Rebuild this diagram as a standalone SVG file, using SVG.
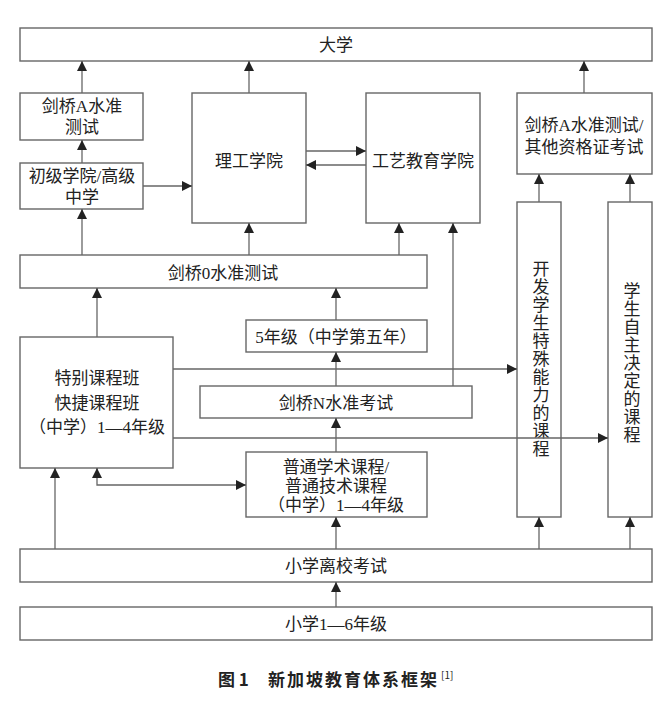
<svg xmlns="http://www.w3.org/2000/svg" width="669" height="711" viewBox="0 0 669 711">
<style>
.box{fill:#fff;stroke:#666;stroke-width:1.4}
.t{font-family:"Liberation Serif","Noto Sans CJK SC",serif;font-size:17px;fill:#222;text-anchor:middle;dominant-baseline:central}
.v{font-family:"Liberation Serif","Noto Sans CJK SC",serif;font-size:17px;fill:#222;writing-mode:vertical-rl;text-orientation:upright;letter-spacing:1px}
.c{fill:none;stroke:#666;stroke-width:1.3}
.cap{font-family:"Noto Sans CJK SC",sans-serif;font-size:17px;font-weight:600;fill:#222}
</style>
<defs>
<marker id="ah" markerUnits="userSpaceOnUse" markerWidth="10" markerHeight="10" viewBox="0 0 10 10" refX="10" refY="5" orient="auto">
<path d="M0,0 L10,5 L0,10 Z" fill="#222"/>
</marker>
<marker id="as" markerUnits="userSpaceOnUse" markerWidth="10" markerHeight="10" viewBox="0 0 10 10" refX="0" refY="5" orient="auto">
<path d="M10,0 L0,5 L10,10 Z" fill="#222"/>
</marker>
</defs>
<rect width="669" height="711" fill="#fff"/>
<g id="daxue"><rect class="box" x="20" y="28" width="632" height="33"/><text class="t" x="336" y="45">大学</text></g>
<g id="jqA1"><rect class="box" x="20" y="93" width="123" height="47"/><text class="t" x="82" y="106">剑桥A水准</text><text class="t" x="82" y="127">测试</text></g>
<g id="chuji"><rect class="box" x="20" y="163" width="123" height="46"/><text class="t" x="82" y="176">初级学院/高级</text><text class="t" x="82" y="197">中学</text></g>
<g id="ligong"><rect class="box" x="192" y="93" width="114" height="130"/><text class="t" x="249" y="161">理工学院</text></g>
<g id="gongyi"><rect class="box" x="366" y="93" width="114" height="130"/><text class="t" x="423" y="161">工艺教育学院</text></g>
<g id="jqA2"><rect class="box" x="517" y="93" width="135" height="81"/><text class="t" x="584" y="125">剑桥A水准测试/</text><text class="t" x="584" y="147">其他资格证考试</text></g>
<g id="vbox1"><rect class="box" x="517" y="202" width="44" height="315"/><text class="v" x="539" y="260">开发学生特殊能力的课程</text></g>
<g id="vbox2"><rect class="box" x="608" y="202" width="44" height="315"/><text class="v" x="630" y="282" letter-spacing="0.6">学生自主决定的课程</text></g>
<g id="jq0"><rect class="box" x="20" y="255" width="407" height="33"/><text class="t" x="223" y="273">剑桥0水准测试</text></g>
<g id="g5"><rect class="box" x="246" y="320" width="181" height="32"/><text class="t" x="336" y="337">5年级（中学第五年）</text></g>
<g id="tebie"><rect class="box" x="20" y="337" width="153" height="131"/><text class="t" x="97" y="378">特别课程班</text><text class="t" x="97" y="403">快捷课程班</text><text class="t" x="97" y="427">（中学）1—4年级</text></g>
<g id="jqN"><rect class="box" x="200" y="386" width="272" height="32"/><text class="t" x="336" y="403">剑桥N水准考试</text></g>
<g id="putong"><rect class="box" x="246" y="452" width="181" height="65"/><text class="t" x="336" y="467">普通学术课程/</text><text class="t" x="336" y="486">普通技术课程</text><text class="t" x="336" y="505">（中学）1—4年级</text></g>
<g id="lixiao"><rect class="box" x="20" y="549" width="632" height="33"/><text class="t" x="336" y="566">小学离校考试</text></g>
<g id="xiaoxue"><rect class="box" x="20" y="607" width="632" height="33"/><text class="t" x="336" y="624">小学1—6年级</text></g>
<g id="connectors">
<line class="c" x1="82" y1="93" x2="82" y2="61" marker-end="url(#ah)"/>
<line class="c" x1="82" y1="163" x2="82" y2="140" marker-end="url(#ah)"/>
<line class="c" x1="82" y1="255" x2="82" y2="209" marker-end="url(#ah)"/>
<line class="c" x1="143" y1="186" x2="192" y2="186" marker-end="url(#ah)"/>
<line class="c" x1="249" y1="93" x2="249" y2="61" marker-end="url(#ah)"/>
<line class="c" x1="249" y1="255" x2="249" y2="223" marker-end="url(#ah)"/>
<line class="c" x1="306" y1="151" x2="366" y2="151" marker-end="url(#ah)"/>
<line class="c" x1="366" y1="165" x2="306" y2="165" marker-end="url(#ah)"/>
<line class="c" x1="399" y1="255" x2="399" y2="223" marker-end="url(#ah)"/>
<line class="c" x1="453" y1="386" x2="453" y2="223" marker-end="url(#ah)"/>
<line class="c" x1="584" y1="93" x2="584" y2="61" marker-end="url(#ah)"/>
<line class="c" x1="539" y1="202" x2="539" y2="174" marker-end="url(#ah)"/>
<line class="c" x1="630" y1="202" x2="630" y2="174" marker-end="url(#ah)"/>
<line class="c" x1="97" y1="337" x2="97" y2="288" marker-end="url(#ah)"/>
<line class="c" x1="336" y1="320" x2="336" y2="288" marker-end="url(#ah)"/>
<line class="c" x1="336" y1="386" x2="336" y2="352" marker-end="url(#ah)"/>
<line class="c" x1="336" y1="452" x2="336" y2="418" marker-end="url(#ah)"/>
<line class="c" x1="173" y1="369" x2="517" y2="369" marker-end="url(#ah)"/>
<line class="c" x1="173" y1="438" x2="608" y2="438" marker-end="url(#ah)"/>
<path class="c" d="M97,468 L97,485 L246,485" marker-start="url(#as)" marker-end="url(#ah)"/>
<line class="c" x1="55" y1="549" x2="55" y2="468" marker-end="url(#ah)"/>
<line class="c" x1="336" y1="549" x2="336" y2="517" marker-end="url(#ah)"/>
<line class="c" x1="539" y1="549" x2="539" y2="517" marker-end="url(#ah)"/>
<line class="c" x1="630" y1="549" x2="630" y2="517" marker-end="url(#ah)"/>
<line class="c" x1="336" y1="607" x2="336" y2="582" marker-end="url(#ah)"/>
</g>
<g id="caption"><text class="cap" x="218" y="686">图 1<tspan x="268" letter-spacing="2">新加坡教育体系框架</tspan><tspan font-size="10" font-weight="normal" dy="-7" dx="2">[1]</tspan></text></g>
</svg>
